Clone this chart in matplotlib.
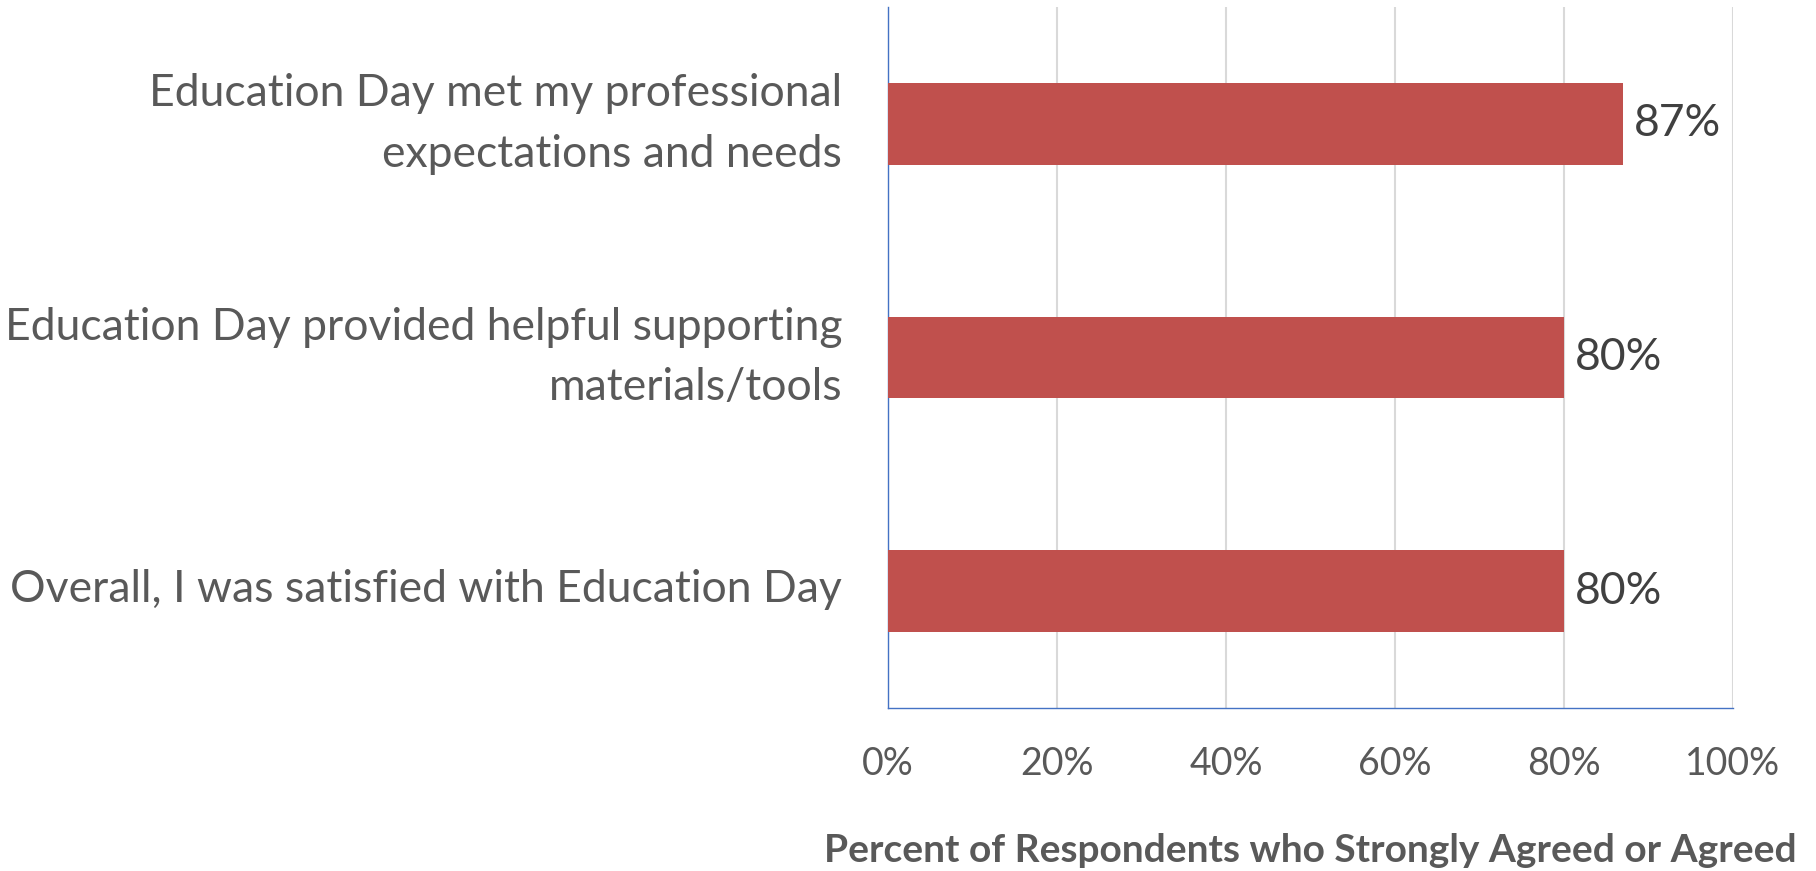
import matplotlib
matplotlib.use("Agg")
import matplotlib.pyplot as plt
import matplotlib.transforms as mtransforms
from matplotlib.ticker import PercentFormatter

# survey items, bottom to top as drawn
items = [
    "Overall, I was satisfied with Education Day",
    "Education Day provided helpful supporting\nmaterials/tools",
    "Education Day met my professional\nexpectations and needs",
]
agreed = [80, 80, 87]
ticks = [0, 20, 40, 60, 80, 100]

plt.rcParams["font.family"] = ["Lato", "DejaVu Sans"]

fig = plt.figure(figsize=(18.16, 8.71), dpi=100)
ax = fig.add_axes([0.489, 0.187, 0.4652, 0.805])

bars = ax.barh(range(len(items)), agreed, height=0.35, color="#c0504d", zorder=3)
ax.set_ylim(-0.5, len(items) - 0.5)
ax.set_xlim(0, 100)

ax.set_yticks(range(len(items)))
ax.set_yticklabels(items, fontsize=32, color="#595959", linespacing=1.6)
ax.set_xticks(ticks)
ax.xaxis.set_major_formatter(PercentFormatter(decimals=0))
ax.tick_params(axis="x", labelsize=27, labelcolor="#595959", length=0, pad=27)
ax.tick_params(axis="y", length=0, pad=33)

# nudge the wrapped labels up a little so they sit on the bar centre
for lab in ax.get_yticklabels():
    dy = 10 if "\n" in lab.get_text() else 4
    lab.set_transform(lab.get_transform() +
                      mtransforms.ScaledTranslation(0, dy / 72, fig.dpi_scale_trans))

ax.grid(axis="x", color="#d9d9d9", linewidth=1.5, zorder=0)
for s in ["top", "right"]:
    ax.spines[s].set_visible(False)
ax.spines["left"].set_color("#4472c4")
ax.spines["bottom"].set_color("#4472c4")
ax.spines["left"].set_linewidth(1.0)
ax.spines["bottom"].set_linewidth(1.0)

for b, v in zip(bars, agreed):
    ax.annotate(f"{v}%", (b.get_width(), b.get_y() + b.get_height() / 2),
                xytext=(8, 0), textcoords="offset points",
                va="center", ha="left", fontsize=32, color="#404040")

ax.set_xlabel("Percent of Respondents who Strongly Agreed or Agreed",
              fontsize=28, fontweight="bold", color="#595959", va="center")
ax.xaxis.set_label_coords(0.5, -0.203)

fig.savefig("out.png", dpi=100)
